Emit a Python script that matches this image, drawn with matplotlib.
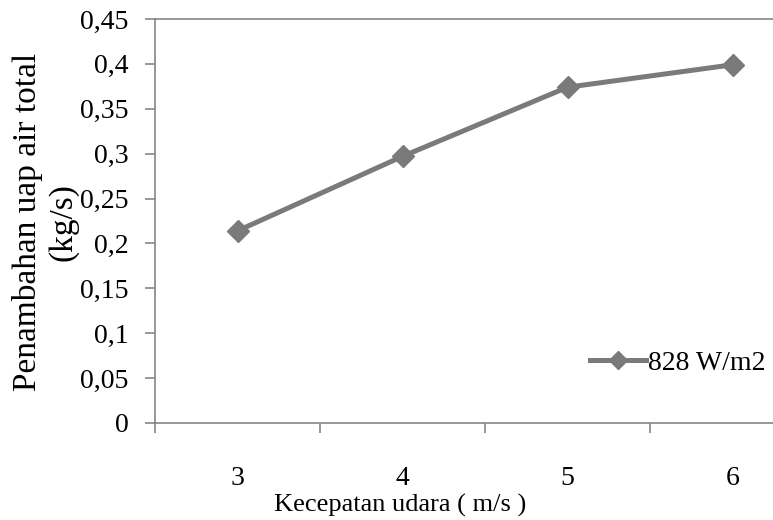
import matplotlib
matplotlib.use("Agg")
import matplotlib.pyplot as plt
from matplotlib.ticker import FixedLocator, FuncFormatter

categories = ["3", "4", "5", "6"]
values = [0.214, 0.297, 0.374, 0.399]
series_name = "828 W/m2"
yticks = [0, 0.05, 0.1, 0.15, 0.2, 0.25, 0.3, 0.35, 0.4, 0.45]

plt.rcParams['font.family'] = ['Liberation Serif', 'DejaVu Serif']

W, H = 773, 520
fig = plt.figure(figsize=(W / 100, H / 100), dpi=100)
left, right, bottom, top = 155 / W, 815 / W, 1 - 423 / H, 1 - 19 / H
ax = fig.add_axes([left, bottom, right - left, top - bottom])

axis_col = "#868686"
line_col = "#7a7a7a"
x = list(range(len(categories)))
ax.plot(x, values, color=line_col, lw=3.6, marker='D', markersize=11,
        markeredgecolor=line_col, markerfacecolor=line_col, label=series_name)

ax.set_xlim(-0.5, len(categories) - 0.5)
ax.set_ylim(0, 0.45)
ax.set_yticks(yticks)
ax.yaxis.set_major_formatter(FuncFormatter(lambda v, p: ("%g" % round(v, 2)).replace('.', ',')))

ax.xaxis.set_major_locator(FixedLocator([i - 0.5 for i in range(len(categories) + 1)]))
ax.xaxis.set_major_formatter(FuncFormatter(lambda v, p: ""))
ax.xaxis.set_minor_locator(FixedLocator(x))
ax.set_xticklabels(categories, minor=True)
ax.tick_params(axis='x', which='minor', length=0, pad=31, labelsize=20)
ax.tick_params(axis='x', which='major', length=7, direction='out', color=axis_col, width=1.2)
ax.tick_params(axis='y', length=7, direction='out', color=axis_col, width=1.2, labelsize=20, pad=12)

for s in ['left', 'bottom', 'top']:
    ax.spines[s].set_color(axis_col)
    ax.spines[s].set_linewidth(1.2)
ax.spines['right'].set_visible(False)

fig.text(400 / W, 1 - 505 / H, "Kecepatan udara ( m/s )", ha='center', va='center', fontsize=19)
fig.text(28 / W, 1 - 222 / H, "Penambahan uap air total", rotation=90, ha='center', va='center', fontsize=24)
fig.text(63 / W, 1 - 222 / H, "(kg/s)", rotation=90, ha='center', va='center', fontsize=24)

fig.legend(loc='center left', bbox_to_anchor=(590 / W, 1 - 363 / H), frameon=False,
           fontsize=20, handlelength=2.0, handletextpad=0.1, borderpad=0, borderaxespad=0,
           markerscale=0.8)

fig.savefig("out.png", dpi=100)
